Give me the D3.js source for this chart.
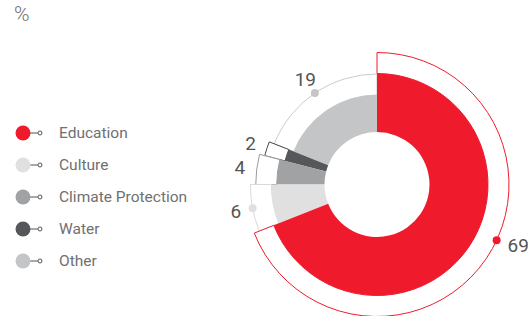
<!DOCTYPE html>
<html>
<head>
<meta charset="utf-8">
<script src="https://cdn.jsdelivr.net/npm/d3@7"></script>
<style>
  body { margin: 0; background: #fff; }
  text { font-family: Roboto, "Liberation Sans", sans-serif; }
</style>
</head>
<body>
<div id="chart"></div>
<script>
'use strict';

// chart data
const categories = ['Education', 'Culture', 'Climate Protection', 'Water', 'Other'];
const values     = [69, 6, 4, 2, 19];
const unitLabel  = '%';

// styles
const fillColors    = ['#ef1b2d', '#e0e0e0', '#a1a2a4', '#56575b', '#c4c5c7'];
const outlineColors = ['#ef1b2d', '#dadada', '#9a9b9d', '#47484c', '#cacbcd'];

const width = 528, height = 316;
const cx = 377, cy = 184.5;
const innerR = 52.5;
const ringGap = 21;       // outline band width
const labelOffset = 17;   // label distance beyond outline
const minDotValue = 5;    // small slices get no dot

const svg = d3.select('#chart').append('svg')
  .attr('width', width)
  .attr('height', height);

// unit
svg.append('text')
  .attr('x', 14).attr('y', 21)
  .attr('fill', '#707070')
  .style('font-size', '21px')
  .style('font-weight', 300)
  .text(unitLabel);

// legend
const legend = svg.append('g').attr('transform', 'translate(23,133)');
const rows = legend.selectAll('g')
  .data(categories)
  .enter().append('g')
  .attr('transform', (d, i) => `translate(0, ${i * 32})`);

rows.append('line')
  .attr('x1', 0).attr('x2', 15).attr('y1', 0).attr('y2', 0)
  .style('stroke', '#555')
  .style('stroke-width', 1);
rows.append('circle')
  .attr('r', 7.5)
  .attr('fill', (d, i) => fillColors[i]);
rows.append('circle')
  .attr('cx', 17).attr('r', 2)
  .attr('fill', '#fff')
  .style('stroke', '#555')
  .style('stroke-width', 1);
rows.append('text')
  .attr('x', 36).attr('y', 0)
  .attr('dy', '0.35em')
  .attr('fill', '#707070')
  .style('font-size', '15.5px')
  .style('font-weight', 400)
  .text(d => d);

// donut
const pie = d3.pie().sort(null).value(d => d);
const slices = pie(values);

// each slice gets a slightly smaller outer radius
const outerR = d3.scaleLinear().domain([0, values.length - 1]).range([111, 89.5]);

const g = svg.append('g').attr('transform', `translate(${cx},${cy})`);

const outlineArc = d3.arc()
  .innerRadius(d => outerR(d.index))
  .outerRadius(d => outerR(d.index) + ringGap);
const fillArc = d3.arc()
  .innerRadius(innerR)
  .outerRadius(d => outerR(d.index));

// draw smaller slices first, education on top
const order = slices.slice().reverse();

g.selectAll('path.outline')
  .data(order)
  .enter().append('path')
  .attr('class', 'outline')
  .attr('d', outlineArc)
  .attr('fill', '#fff')
  .style('stroke', d => outlineColors[d.index])
  .style('stroke-width', 1);

g.selectAll('path.fill')
  .data(order)
  .enter().append('path')
  .attr('class', 'fill')
  .attr('d', fillArc)
  .attr('fill', d => fillColors[d.index]);

// label angle: middle of the slice, the big right slice is capped
const maxRightAngle = 115 * Math.PI / 180;
function labelAngle(d) {
  const mid = (d.startAngle + d.endAngle) / 2;
  return mid < Math.PI ? Math.min(mid, maxRightAngle) : mid;
}
function polar(a, r) {
  return [r * Math.sin(a), -r * Math.cos(a)];
}
function labelPos(d) {
  const a = labelAngle(d);
  const right = a < Math.PI;
  return polar(a, outerR(d.index) + ringGap + (right ? 12 : labelOffset));
}

g.selectAll('circle.dot')
  .data(slices.filter(d => d.value >= minDotValue))
  .enter().append('circle')
  .attr('class', 'dot')
  .attr('cx', d => polar(labelAngle(d), outerR(d.index) + ringGap)[0])
  .attr('cy', d => polar(labelAngle(d), outerR(d.index) + ringGap)[1])
  .attr('r', 4)
  .attr('fill', d => fillColors[d.index]);

g.selectAll('text.val')
  .data(slices)
  .enter().append('text')
  .attr('class', 'val')
  .attr('x', d => labelPos(d)[0])
  .attr('y', d => labelPos(d)[1])
  .attr('dy', '0.35em')
  .attr('text-anchor', d => labelAngle(d) < Math.PI ? 'start' : 'middle')
  .attr('fill', '#555')
  .style('font-size', '19px')
  .style('font-weight', 400)
  .text(d => d.value);
</script>
</body>
</html>
